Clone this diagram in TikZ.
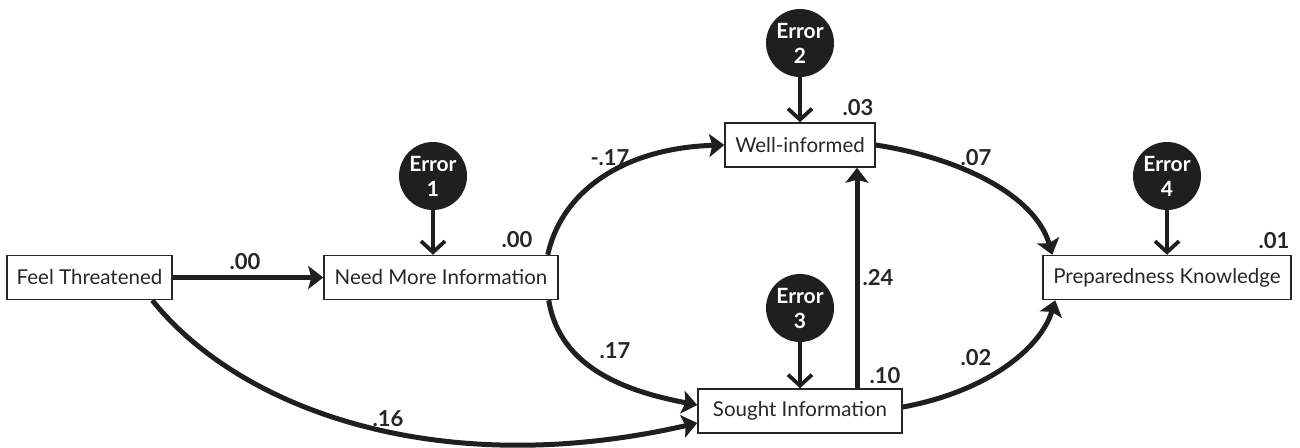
\documentclass[tikz,border=0pt]{standalone}
\usepackage{fontspec}
\setmainfont{Lato}
\usetikzlibrary{arrows.meta,calc}
\begin{document}
\begin{tikzpicture}[x=1pt,y=-1pt,
  box/.style={draw=black!85, line width=1.5pt, minimum height=44pt, inner sep=0pt, font=\fontsize{20.5}{24}\selectfont, text=black!85},
  err/.style={circle, fill=black!88, minimum size=68pt, inner sep=0pt, text=white, align=center, font=\bfseries\fontsize{21}{25}\selectfont},
  pth/.style={draw=black!88, line width=5pt, -{Stealth[length=15pt,width=23pt,inset=3pt]}},
  erra/.style={draw=black!88, line width=3.8pt, -{Straight Barb[length=11pt,width=24pt]}},
  lab/.style={font=\bfseries\fontsize{22}{24}\selectfont, inner sep=0pt, text=black!85}]
\useasboundingbox (0,0) rectangle (1300,447);
\node[box, minimum width=165pt] (ft) at (89.5,277.5) {Feel Threatened};
\node[box, minimum width=234pt] (nmi) at (441,277.5) {Need More Information};
\node[box, minimum width=150pt] (wi) at (800,145) {Well-informed};
\node[box, minimum width=204pt] (si) at (800,411) {Sought Information};
\node[box, minimum width=248pt] (pk) at (1167,277.5) {Preparedness Knowledge};
\node[err] (e1) at (433,176) {Error\\1};
\node[err] (e2) at (800,43) {Error\\2};
\node[err] (e3) at (800,308) {Error\\3};
\node[err] (e4) at (1167,176) {Error\\4};
\draw[erra] (e1) -- (e1 |- nmi.north);
\draw[erra] (e2) -- (e2 |- wi.north);
\draw[erra] (e3) -- (e3 |- si.north);
\draw[erra] (e4) -- (e4 |- pk.north);
\draw[pth] (ft) -- (nmi);
\draw[pth] ($(nmi.north east)+(-11,0)$) .. controls (562,190) and (625,148) .. (wi.west);
\draw[pth] (wi.east) .. controls (960,158) and (1035,195) .. ($(pk.north west)+(10,0)$);
\draw[pth] ($(nmi.south east)+(-10,0)$) .. controls (560,370) and (630,392) .. ($(si.west)+(0,-6)$);
\draw[pth] ($(ft.south west)+(146,0)$) .. controls (240,410) and (440,482) .. ($(si.west)+(0,12)$);
\draw[pth] ($(si.north)+(57,0)$) -- ($(wi.south)+(57,0)$);
\draw[pth] ($(si.east)+(0,-4)$) .. controls (985,392) and (1040,350) .. ($(pk.south west)+(13,0)$);
\node[lab] (l1) at (245,262) {.00};
\node[lab] (l2) at (517,240) {.00};
\node[lab] (l3) at (610,158) {-.17};
\node[lab] (l4) at (858,108) {.03};
\node[lab] (l5) at (976,158) {.07};
\node[lab] (l6) at (1274,241) {.01};
\node[lab] (l7) at (878,278) {.24};
\node[lab] (l8) at (615,351) {.17};
\node[lab] (l9) at (885,376) {.10};
\node[lab] (l10) at (976,358) {.02};
\node[lab] (l11) at (388,419) {.16};
\end{tikzpicture}
\end{document}
